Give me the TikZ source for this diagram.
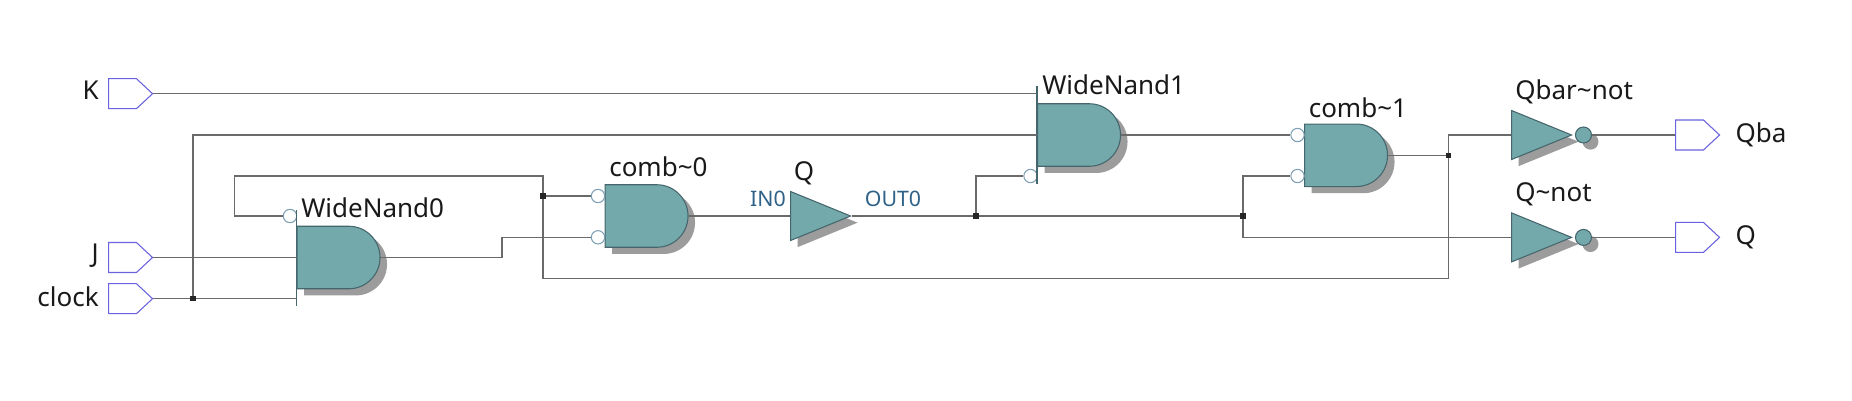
\documentclass[tikz,border=0pt]{standalone}
\usepackage{fontspec}
\setmainfont{Noto Sans}
\usepackage{xcolor}
\usetikzlibrary{shapes.geometric, shapes.misc, shapes.symbols, shadows, positioning}
\definecolor{gatefill}{HTML}{74A9AB}
\definecolor{gateedge}{HTML}{44666C}
\definecolor{shadegray}{HTML}{9C9C9C}
\definecolor{wiregray}{HTML}{6A6A6A}
\definecolor{pinblue}{HTML}{6A62DE}
\definecolor{bubbleedge}{HTML}{7FA0B4}
\definecolor{portblue}{HTML}{2F6288}
\begin{document}
\begin{tikzpicture}[
          x=0.75pt, y=-0.75pt,
          gateshadow/.style={drop shadow={shadow xshift=5.25pt, shadow yshift=-5pt, fill=shadegray, opacity=1}},
          andgate/.style={rounded rectangle, rounded rectangle west arc=none, draw=gateedge, fill=gatefill, line width=0.8pt, minimum width=62.25pt, minimum height=46.9pt, inner sep=0pt, anchor=west, gateshadow},
          trigate/.style={isosceles triangle, isosceles triangle stretches, shape border rotate=0, draw=gateedge, fill=gatefill, line width=0.8pt, minimum width=36.75pt, minimum height=45pt, inner sep=0pt, anchor=lower side, gateshadow},
          notdot/.style={circle, draw=gateedge, fill=gatefill, line width=0.8pt, minimum size=12pt, inner sep=0pt, gateshadow},
          bubble/.style={circle, draw=bubbleedge, fill=white, line width=0.8pt, minimum size=10pt, inner sep=0pt},
          pin/.style={signal, signal to=east, signal pointer angle=86, draw=pinblue, fill=white, line width=0.8pt, minimum width=33pt, minimum height=22.5pt, inner sep=0pt, anchor=west},
          joint/.style={rectangle, fill=black!85, minimum size=3.8pt, inner sep=0pt},
          wire/.style={draw=wiregray, line width=1.1pt},
          bar/.style={draw=gateedge, line width=0.8pt},
          txt/.style={inner sep=0pt, font=\fontsize{19.5}{22}\selectfont, text=black!90},
          port/.style={inner sep=0pt, font=\fontsize{16}{18}\selectfont, text=portblue}
        ]
          \useasboundingbox (0,0) rectangle (1852,400);
          \node[pin] (kpin) at (108,93.7) {};
          \node[pin] (jpin) at (108,257.5) {};
          \node[pin] (clockpin) at (108,298.7) {};
          \node[txt, left=6.75pt of kpin.west, yshift=2.25pt] (klabel) {K};
          \node[txt, left=6.75pt of jpin.west, yshift=1pt] (jlabel) {J};
          \node[txt, left=6.75pt of clockpin.west, yshift=1.5pt] (clocklabel) {clock};

          \coordinate (widea) at (1037,93.7);
          \coordinate (kinka) at (502,237.3);
          \coordinate (loopa) at (234.5,176);
          \coordinate (loopb) at (1448.5,278.7);
          \coordinate (widezerotop) at (296.5,210);
          \coordinate (widezerobot) at (296.5,305.7);
          \coordinate (wideonetop) at (1037,86);
          \coordinate (wideonebot) at (1037,184);
          \coordinate (clockend) at (296.5,298.7);

          \node[joint] (clockjoint) at (193,298.7) {};
          \node[joint] (loopjoint) at (543,196) {};
          \node[joint] (qjoint) at (976,216) {};
          \node[joint] (qjointb) at (1243,216) {};
          \node[joint] (combjoint) at (1448.5,155.3) {};

          \node[andgate] (nandzero) at (296.5,257.5) {};
          \node[andgate] (combzero) at (604.5,216) {};
          \node[andgate] (nandone) at (1037,135) {};
          \node[andgate] (combone) at (1304,155.3) {};
          \node[bubble] (nandzeroa) at (290,216) {};
          \node[bubble] (combzeroa) at (598,196) {};
          \node[bubble] (combzerob) at (598,237.3) {};
          \node[bubble] (nandonea) at (1030.5,176) {};
          \node[bubble] (combonea) at (1297.5,135) {};
          \node[bubble] (comboneb) at (1297.5,176) {};

          \node[trigate] (qbuf) at (790,216) {};
          \node[trigate] (qbarnot) at (1511,135) {};
          \node[trigate] (qnot) at (1511,237.4) {};
          \node[notdot, right=1.5pt of qbarnot.apex] (qbardot) {};
          \node[notdot, right=1.5pt of qnot.apex] (qdot) {};
          \node[pin] (qbapin) at (1675,135) {};
          \node[pin] (qpin) at (1675,237.4) {};
          \node[txt, right=11.25pt of qbapin.east, yshift=0.5pt] (qbalabel) {Qba};
          \node[txt, right=11.25pt of qpin.east] (qlabel) {Q};

          \node[txt, anchor=west] (nandzerolabel) at (301,208) {WideNand0};
          \node[txt, anchor=west] (nandonelabel) at (1042,85) {WideNand1};
          \node[txt, anchor=west] (combzerolabel) at (609,167) {comb\char`\~0};
          \node[txt, anchor=west] (combonelabel) at (1308.5,108) {comb\char`\~1};
          \node[txt, anchor=west] (qbarlabel) at (1515,92) {Qbar\char`\~not};
          \node[txt, anchor=west] (qnotlabel) at (1515,194.5) {Q\char`\~not};
          \node[txt] (qbuflabel) at (804,173) {Q};
          \node[port] (inlabel) at (768,199) {IN0};
          \node[port] (outlabel) at (893,199) {OUT0};

          \draw[bar] (widezerotop) -- (widezerobot);
          \draw[bar] (wideonetop) -- (wideonebot);

          \draw[wire] (kpin.east) -- (widea);
          \draw[wire] (jpin.east) -- (nandzero.west);
          \draw[wire] (clockpin.east) -- (clockjoint) -- (clockend);
          \draw[wire] (clockjoint) |- (nandone.west);
          \draw[wire] (nandzero.east) -| (kinka) -- (combzerob.west);
          \draw[wire] (nandzeroa.west) -| (loopa) -| (loopjoint) -- (combzeroa.west);
          \draw[wire] (loopjoint) |- (loopb) -- (combjoint);
          \draw[wire] (combzero.east) -- (qbuf.lower side);
          \draw[wire] (qbuf.apex) -- (qjoint) -- (qjointb);
          \draw[wire] (qjoint) |- (nandonea.west);
          \draw[wire] (qjointb) |- (comboneb.west);
          \draw[wire] (qjointb) |- (qnot.lower side);
          \draw[wire] (nandone.east) -- (combonea.west);
          \draw[wire] (combone.east) -- (combjoint);
          \draw[wire] (combjoint) |- (qbarnot.lower side);
          \draw[wire] (qbardot.east) -- (qbapin.west);
          \draw[wire] (qdot.east) -- (qpin.west);
        \end{tikzpicture}
\end{document}
